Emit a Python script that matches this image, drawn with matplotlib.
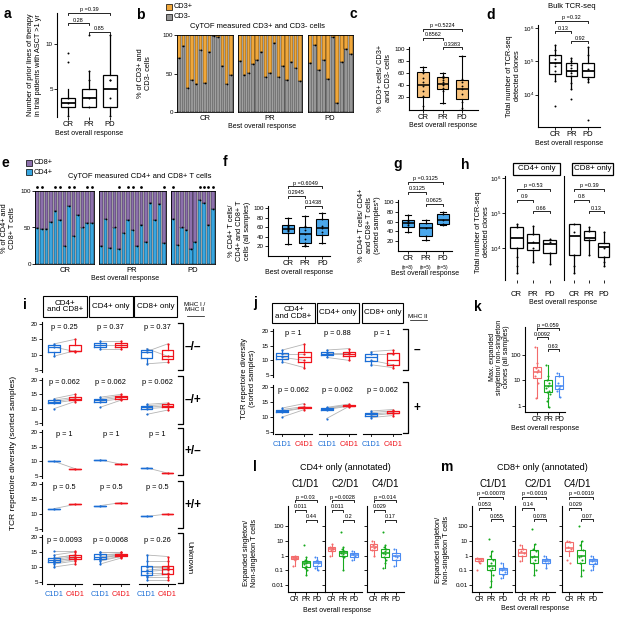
import numpy as np
import matplotlib
matplotlib.use('Agg')
import matplotlib.pyplot as plt
from matplotlib.patches import Rectangle
from matplotlib.lines import Line2D

plt.rcParams['font.family'] = ['Liberation Sans', 'DejaVu Sans']
plt.rcParams['font.size'] = 5
plt.rcParams['axes.linewidth'] = 0.8

# ---- data ----
grp = ['CR', 'PR', 'PD']
# a: lines of therapy   [whislo, q1, med, q3, whishi]
a_stats = [[2, 3, 3.5, 4, 5], [3, 3, 4, 5, 7], [2, 3, 5, 6.5, 11]]
a_pts = [[8, 9, 4, 3.5, 2], [11, 7, 6, 4, 3], [11, 6, 6, 4, 2]]
a_p = ['p =0.39', '0.28', '0.85']
# b: % CD3- cells per sample (rest is CD3+)
b_cr = [70, 86, 31, 42, 37, 80, 38, 78, 99, 97, 60, 36, 48]
b_pr = [66, 48, 51, 62, 68, 78, 46, 51, 90, 45, 60, 41, 65, 57, 40]
b_pd = [64, 87, 55, 68, 43, 97, 12, 65, 82, 75]
# c: % CD3+ cells
c_stats = [[0, 21, 40, 62, 70], [10, 33, 42, 53, 60], [0, 17, 34, 49, 88]]
c_pts = [[0, 5, 22, 30, 38, 45, 52, 60, 65, 70], [10, 30, 35, 40, 42, 45, 48, 52, 55, 60],
         [0, 3, 12, 25, 33, 38, 45, 50, 88]]
c_p = ['p =0.5224', '0.8562', '0.3383']
# d: bulk TCR-seq clones
d_stats = [[2.6e4, 4.3e4, 9e4, 1.5e5, 3e5], [1.5e4, 3.6e4, 5.3e4, 9e4, 1.3e5],
           [2.4e4, 3.3e4, 5e4, 9e4, 2.7e5]]
d_pts = [[4.7e3, 2.6e4, 5e4, 7e4, 9e4, 1.2e5, 1.6e5, 2.2e5, 3e5],
         [7.5e3, 1.5e4, 2.2e4, 3.6e4, 4.5e4, 5.3e4, 6.5e4, 8e4, 1e5, 1.3e5],
         [1.7e3, 2.4e4, 3e4, 6e4, 1.5e5, 2.7e5]]
d_p = ['p =0.32', '0.13', '0.92']
# e: % CD4+ of CD4+CD8+ T cells per sample
e_cr = [49, 48, 48, 57, 72, 60, 25, 80, 38, 67, 50, 56, 56]
e_pr = [24, 62, 22, 50, 20, 42, 60, 46, 25, 53, 30, 83, 60, 82, 29]
e_pd = [61, 26, 50, 46, 21, 30, 88, 83, 53, 76]
e_sorted = [[0, 1, 4, 5, 7, 8, 11, 12], [4, 6, 7, 9, 14], [0, 6, 7, 8, 9]]
# f, g
f_stats = [[25, 47, 57, 64, 80], [20, 27, 46, 61, 84], [27, 43, 58, 78, 89]]
f_pts = [[25, 48, 52, 55, 57, 58, 60, 63, 65, 80], [20, 22, 27, 35, 46, 55, 61, 63, 84],
         [27, 43, 50, 58, 62, 78, 89]]
f_p = ['p =0.6049', '0.2945', '0.1438']
g_stats = [[38, 48, 57, 64, 73], [22, 30, 47, 57, 63], [54, 56, 63, 75, 80]]
g_pts = [[38, 48, 52, 57, 58, 62, 64, 73], [22, 30, 47, 57, 63], [54, 56, 63, 75, 80]]
g_p = ['p =0.3125', '0.3125', '0.0625']
g_n = ['(n=8)', '(n=5)', '(n=5)']
# h
h4_stats = [[2e3, 1e4, 1.9e4, 4e4, 5e4], [4e3, 9e3, 1.4e4, 2.5e4, 4.3e4], [3.5e3, 7.5e3, 1.3e4, 1.75e4, 1.8e4]]
h4_pts = [[5e4, 4e4, 1e4, 5.5e3, 3e3, 2e3], [4.3e4, 2.5e4, 1.5e4, 1e4, 4e3], [1.8e4, 1.5e4, 7.5e3, 3.5e3]]
h8_stats = [[2e3, 6.5e3, 2.2e4, 5e4, 5e4], [6.5e3, 1.7e4, 2e4, 3e4, 4e4], [3e3, 5.5e3, 1.1e4, 1.4e4, 2.8e4]]
h8_pts = [[5e4, 2.8e4, 6.5e3, 3e3, 2e3], [4e4, 3e4, 1.7e4, 6.5e3], [2.8e4, 1e4, 5.5e3, 4e3, 3e3]]
h4_p = ['p =0.53', '0.9', '0.66']
h8_p = ['p =0.39', '0.8', '0.13']
# i: paired TCR diversity, rows = MHC I / MHC II status, groups = CD4+CD8+, CD4+, CD8+
i_rows = ['\u2013/\u2013', '\u2013/+', '+/\u2013', '+/+', 'Unknown']
i_p = [['p = 0.25', 'p = 0.37', 'p = 0.37'], ['p = 0.062'] * 3, ['p = 1'] * 3, ['p = 0.5'] * 3,
       ['p = 0.0093', 'p = 0.0068', 'p = 0.26']]
i_c1 = [
    [[9.5, 12.5, 13.5], [12.0, 13.0, 14.5], [7.0, 11.0, 12.0]],
    [[10.0, 12.0, 12.5, 13.0, 13.5], [10.5, 12.5, 13.0, 13.5, 14.0], [8.0, 10.0, 10.5, 11.0, 11.5]],
    [[10.0], [10.5], [7.8]],
    [[11.8], [12.8], [9.2]],
    [[10.0, 11.0, 11.5, 12.0, 12.0, 12.5, 13.0, 13.0, 14.0, 15.5],
     [11.0, 12.0, 12.5, 13.0, 13.0, 13.5, 14.0, 14.5, 15.0, 15.0],
     [5.5, 6.5, 7.0, 8.0, 8.5, 9.0, 10.0, 10.5, 12.0, 14.0]],
]
i_c4 = [
    [[11.3, 11.0, 15.0], [12.0, 13.0, 14.5], [7.5, 13.5, 9.5]],
    [[12.5, 13.0, 13.5, 14.0, 15.0], [13.0, 13.5, 14.0, 14.5, 15.0], [9.5, 10.5, 11.0, 11.5, 12.0]],
    [[7.5], [9.0], [6.0]],
    [[13.2], [13.8], [10.0]],
    [[11.0, 12.0, 12.5, 13.0, 13.0, 13.5, 14.0, 14.0, 15.0, 15.5],
     [13.0, 13.5, 13.5, 14.0, 14.0, 14.0, 14.5, 14.5, 15.0, 15.0],
     [5.5, 6.5, 7.5, 8.0, 9.0, 9.5, 10.0, 10.5, 12.0, 13.5]],
]
# j: by MHC II only
j_rows = ['\u2013', '+']
j_p = [['p = 1', 'p = 0.88', 'p = 1'], ['p = 0.062'] * 3]
j_c1 = [
    [[9.5, 11.0, 12.0, 13.5], [11.0, 12.0, 12.5, 13.5], [8.5, 10.0, 12.0, 13.0]],
    [[10.0, 11.8, 12.0, 12.5, 13.0], [9.5, 12.5, 12.8, 13.0, 13.2], [9.8, 10.5, 11.0, 11.5, 12.0]],
]
j_c4 = [
    [[7.5, 10.0, 12.0, 15.5], [10.0, 12.0, 12.5, 14.0], [7.5, 8.5, 12.0, 13.5]],
    [[12.5, 13.0, 13.2, 13.5, 14.5], [13.5, 13.6, 13.8, 14.0, 14.3], [10.5, 11.2, 11.5, 12.0, 12.5]],
]
# k
k_stats = [[2, 12, 22, 35, 200], [0.9, 3.5, 6, 10, 40], [2.3, 4.5, 6, 15, 20]]
k_pts = [[200, 50, 30, 25, 22, 15, 8, 2], [40, 15, 10, 8, 6, 5, 4, 3.5, 3, 2, 1.5, 0.9],
         [20, 15, 8, 6, 5, 4, 2.3]]
k_p = ['p =0.059', '0.0092', '0.63']
# l: CD4+ only, expanded / non-singleton
cyc = ['C1/D1', 'C2/D1', 'C4/D1']
l_stats = [
    [[0.2, 0.55, 0.7, 0.9, 1.0], [0.05, 0.18, 0.3, 0.42, 0.8], [0.1, 0.2, 0.3, 0.45, 0.8]],
    [[1, 2, 3, 4, 6], [0.1, 1, 1.5, 2.2, 4], [0.5, 0.8, 1.1, 1.5, 2]],
    [[1, 2.5, 4, 6, 10], [0.15, 0.8, 1.6, 3, 5], [0.2, 0.5, 0.9, 1.5, 3]],
]
l_pts = [
    [[0.2, 0.5, 0.6, 0.7, 0.75, 0.85, 1.0], [5, 0.8, 0.5, 0.4, 0.3, 0.25, 0.2, 0.15, 0.1, 0.05],
     [0.8, 0.5, 0.4, 0.3, 0.2, 0.15, 0.1]],
    [[1, 2, 2.5, 3, 3.5, 4, 6], [40, 4, 3, 2.2, 2, 1.5, 1.3, 1, 0.8, 0.1], [2, 1.5, 1.2, 1, 0.8, 0.5]],
    [[10, 6, 5, 4, 3.5, 2.5, 1], [40, 5, 4, 3, 2, 1.6, 1.2, 0.8, 0.5, 0.3, 0.15], [3, 1.5, 1, 0.8, 0.5, 0.2]],
]
l_p = [['p =0.03', '0.011', '0.44'], ['p =0.0028', '0.011', '0.2'], ['p =0.014', '0.029', '0.17']]
# m: CD8+ only
m_stats = [
    [[0.3, 0.4, 0.55, 0.65, 0.7], [0.007, 0.1, 0.2, 0.55, 2], [0.03, 0.06, 0.1, 0.15, 0.3]],
    [[0.4, 1, 1.6, 3, 5], [0.05, 0.3, 0.8, 2.5, 6], [0.15, 0.3, 0.45, 0.6, 1]],
    [[1, 2, 3.5, 8, 10], [0.04, 0.3, 0.9, 2.5, 10], [0.1, 0.25, 0.4, 0.6, 1]],
]
m_pts = [
    [[0.1, 0.3, 0.4, 0.5, 0.6, 0.65], [13, 2, 1, 0.5, 0.3, 0.2, 0.15, 0.1, 0.05, 0.02, 0.007],
     [0.3, 0.15, 0.1, 0.08, 0.05, 0.03]],
    [[5, 3, 2, 1.5, 1, 0.4], [60, 6, 3, 2, 1, 0.8, 0.5, 0.3, 0.1, 0.05], [1, 0.6, 0.45, 0.3, 0.15]],
    [[10, 8, 4, 3, 2, 0.5, 0.3], [100, 10, 5, 2.5, 1, 0.8, 0.5, 0.3, 0.1, 0.04], [1, 0.6, 0.4, 0.3, 0.2, 0.1]],
]
m_p = [['p =0.00078', '0.053', '0.055'], ['p =0.0019', '0.14', '0.078'], ['p =0.0019', '0.029', '0.07']]

# colours
ORANGE = '#F0A73A'
GRAY = '#969696'
PURPLE = '#8C70AC'
CYAN = '#38A6E0'
LORANGE = '#F8C27C'
FBLUE = '#4BA8EC'
BLUE = '#1B6ED6'
RED = '#F0141C'
RESP = ['#F36B6B', '#17A91E', '#4A8BF2']

FS_TICK = 4.5   # numeric tick labels
FS_CAT = 5.5    # CR / PR / PD
FS_XL = 5       # "Best overall response"
FS_YL = 5.3     # y labels
FS_P = 4        # bracket p values

W, H = 620, 617
fig = plt.figure(figsize=(W / 100, H / 100), dpi=100)


def axpx(x0, y0, x1, y1):
    ax = fig.add_axes([x0 / W, 1 - y1 / H, (x1 - x0) / W, (y1 - y0) / H])
    ax.px = (x0, y0, x1, y1)
    return ax


def ftext(x, y, s, **kw):
    kw.setdefault('ha', 'center')
    kw.setdefault('va', 'center')
    fig.text(x / W, 1 - y / H, s, **kw)


def fline(xs, ys, **kw):
    kw.setdefault('color', 'k')
    kw.setdefault('lw', 0.8)
    fig.add_artist(Line2D([x / W for x in xs], [1 - y / H for y in ys], **kw))


def label(x, y, s):
    ftext(x, y, s, fontsize=10, fontweight='bold')


def style(ax, bottom=True):
    ax.spines['top'].set_visible(False)
    ax.spines['right'].set_visible(False)
    ax.spines['bottom'].set_visible(bottom)
    ax.tick_params(length=2, width=0.6, pad=1, labelsize=FS_TICK)
    ax.patch.set_alpha(0)


def brk(ax, a, b, yl, txt, fs=FS_P):
    x0, y0, x1, y1 = ax.px
    f = lambda y: (y1 - y) / (y1 - y0)
    tr = ax.get_xaxis_transform()
    ax.plot([a, a, b, b], [f(yl + 2), f(yl), f(yl), f(yl + 2)], transform=tr,
            color='k', lw=0.6, clip_on=False)
    ax.text((a + b) / 2, f(yl - 0.5), txt, transform=tr, ha='center', va='bottom',
            fontsize=fs, clip_on=False)


def boxes(ax, stats, face='white', edge='k', w=0.6, lw=0.8, caps=False, ecols=None):
    for i, s in enumerate(stats):
        ec = ecols[i] if ecols else edge
        st = [dict(whislo=s[0], q1=s[1], med=s[2], q3=s[3], whishi=s[4], fliers=[])]
        ax.bxp(st, positions=[i + 1], widths=w, patch_artist=True, showfliers=False,
               showcaps=caps, capwidths=w * 0.5,
               boxprops=dict(facecolor=face, edgecolor=ec, lw=lw),
               whiskerprops=dict(color=ec, lw=lw), capprops=dict(color=ec, lw=lw),
               medianprops=dict(color=ec, lw=lw * 1.4))


def dots(ax, pts, cols=None, s=2.0, jit=0.0):
    for i, p in enumerate(pts):
        n = len(p)
        off = ((np.arange(n) * 0.618) % 1 - 0.5) * 2 * jit
        ax.scatter(i + 1 + off, p, s=s, color=(cols[i] if cols else 'k'), zorder=3, lw=0)


def cats(ax, fs=FS_CAT):
    ax.set_xticks([1, 2, 3])
    ax.set_xticklabels(grp, fontsize=fs)


# ================= a =================
label(7, 14, 'a')
ax = axpx(57, 13, 122, 117)
style(ax, bottom=False)
boxes(ax, a_stats, w=0.65, lw=0.9)
dots(ax, a_pts)
ax.set_ylim(1.89, 13.44)
ax.set_xlim(0.48, 3.57)
ax.set_yticks([5, 10])
cats(ax)
ax.set_xlabel('Best overall response', fontsize=FS_XL, labelpad=1)
ax.set_ylabel('Number of prior lines of therapy\nin trial patients with ASCT >1 yr', fontsize=FS_YL, labelpad=3)
brk(ax, 1, 3, 13, a_p[0])
brk(ax, 1, 2, 23, a_p[1])
brk(ax, 2, 3, 32, a_p[2])


# ============ stacked bar facets (b, e) ============
def stacked(facets, vals, top_col, bot_col, ytop, ybot, marks=None):
    for k, ((x0, x1), v) in enumerate(zip(facets, vals)):
        ax = axpx(x0, ytop, x1, ybot)
        v = np.array(v, dtype=float)
        x = np.arange(len(v))
        ax.bar(x, v, width=0.8, color=bot_col, edgecolor='k', lw=0.3)
        ax.bar(x, 100 - v, bottom=v, width=0.8, color=top_col, edgecolor='k', lw=0.3)
        ax.scatter(x, v, s=1.6, color='k', zorder=3, lw=0)
        if marks is not None:
            ax.scatter(np.array(marks[k]), np.full(len(marks[k]), 106), s=4, color='k',
                       marker='o', clip_on=False, lw=0)
        ax.set_xlim(-0.5, len(v) - 0.5)
        ax.set_ylim(0, 100)
        ax.set_xticks([])
        ax.tick_params(length=2, width=0.6, pad=1, labelsize=FS_TICK)
        if k == 0:
            ax.set_yticks([0, 50, 100])
        else:
            ax.set_yticks([])
        for s in ax.spines.values():
            s.set_linewidth(0.6)


label(140, 15, 'b')
stacked([(177, 233), (238, 302), (308, 353)], [b_cr, b_pr, b_pd], ORANGE, GRAY, 35, 112)
for yy, col, txt in [(7, ORANGE, 'CD3+'), (17, GRAY, 'CD3-')]:
    fig.add_artist(Rectangle((166 / W, 1 - (yy + 3) / H), 6 / W, 6 / H, fc=col, ec='k', lw=0.5))
    ftext(174, yy, txt, ha='left', fontsize=5.3)
ftext(258, 26, 'CyTOF measured CD3+ and CD3- cells', fontsize=5.5)
for xx, g in zip([205, 270, 330], grp):
    ftext(xx, 119, g, fontsize=FS_CAT)
ftext(262, 127, 'Best overall response', fontsize=FS_XL)
ftext(145, 73, '% of CD3+ and\nCD3- cells', rotation=90, fontsize=FS_YL)

# ================= c =================
label(353, 14, 'c')
ax = axpx(409, 47, 478, 109.5)
style(ax)
boxes(ax, c_stats, face=LORANGE, w=0.6, lw=0.8, caps=True)
dots(ax, c_pts, s=1.8)
ax.set_ylim(0, 103)
ax.set_xlim(0.28, 3.82)
ax.set_yticks([20, 40, 60, 80, 100])
cats(ax)
ax.set_xlabel('Best overall response', fontsize=FS_XL, labelpad=1)
ax.set_ylabel('% CD3+ cells/ CD3+\nand CD3- cells', fontsize=FS_YL, labelpad=2)
brk(ax, 1, 3, 29, c_p[0])
brk(ax, 1, 2, 38, c_p[1])
brk(ax, 2, 3, 47, c_p[2])

# ================= d =================
label(491, 15, 'd')
ftext(572, 6, 'Bulk TCR-seq', fontsize=5.5)
ax = axpx(538, 25, 600, 127)
style(ax)
ax.set_yscale('log')
boxes(ax, d_stats, w=0.7, lw=0.9)
dots(ax, d_pts)
ax.set_ylim(10 ** 3.03, 10 ** 6.09)
ax.set_xlim(-0.03, 3.73)
ax.set_yticks([1e4, 1e5, 1e6])
ax.minorticks_off()
cats(ax)
ax.set_xlabel('Best overall response', fontsize=FS_XL, labelpad=1)
ax.set_ylabel('Total number of TCR-seq\ndetected clones', fontsize=FS_YL, labelpad=1)
brk(ax, 1, 3, 21, d_p[0])
brk(ax, 1, 2, 31, d_p[1])
brk(ax, 2, 3, 41, d_p[2])

# ================= e =================
label(5, 163, 'e')
stacked([(35, 94), (99, 166), (171, 215)], [e_cr, e_pr, e_pd], PURPLE, CYAN, 191, 264, marks=e_sorted)
for yy, col, txt in [(163, PURPLE, 'CD8+'), (172, CYAN, 'CD4+')]:
    fig.add_artist(Rectangle((26 / W, 1 - (yy + 3) / H), 6 / W, 6 / H, fc=col, ec='k', lw=0.5))
    ftext(34, yy, txt, ha='left', fontsize=5.3)
ftext(140, 176, 'CyTOF measured CD4+ and CD8+ T cells', fontsize=5.5)
for xx, g in zip([65, 132, 193], grp):
    ftext(xx, 270, g, fontsize=FS_CAT)
ftext(125, 278, 'Best overall response', fontsize=FS_XL)
ftext(9, 228, '% of CD4+ and\nCD8+ T cells', rotation=90, fontsize=FS_YL)

# ================= f =================
label(225, 162, 'f')
ax = axpx(268, 206, 330, 256)
style(ax)
boxes(ax, f_stats, face=FBLUE, w=0.7, lw=0.8, caps=True)
dots(ax, f_pts, s=1.8)
ax.set_ylim(0, 104)
ax.set_xlim(-0.15, 3.45)
ax.set_yticks([20, 40, 60, 80, 100])
cats(ax)
ax.set_xlabel('Best overall response', fontsize=FS_XL, labelpad=1)
ax.set_ylabel('% CD4+ T cells/\nCD4+ and CD8+ T\ncells (all samples)', fontsize=FS_YL, labelpad=2)
brk(ax, 1, 3, 186, f_p[0])
brk(ax, 1, 2, 196, f_p[1])
brk(ax, 2, 3, 206, f_p[2])

# ================= g =================
label(398, 164, 'g')
ax = axpx(398, 200, 452, 251)
style(ax)
boxes(ax, g_stats, face=FBLUE, w=0.7, lw=0.8, caps=True)
dots(ax, g_pts, s=1.8)
ax.set_ylim(0, 104)
ax.set_xlim(0.43, 3.51)
ax.set_yticks([20, 40, 60, 80, 100])
cats(ax)
for i, n in enumerate(g_n):
    ax.text(i + 1, -0.33, n, transform=ax.get_xaxis_transform(), ha='center', fontsize=3.5, va='center')
ax.set_xlabel('Best overall response', fontsize=FS_XL, labelpad=6)
ax.set_ylabel('% CD4+ T cells/ CD4+\nand CD8+ T cells\n(sorted samples*)', fontsize=FS_YL, labelpad=2)
brk(ax, 1, 3, 182, g_p[0])
brk(ax, 1, 2, 192, g_p[1])
brk(ax, 2, 3, 204, g_p[2])

# ================= h =================
label(465, 165, 'h')
for (x0, x1), st, pts, pl, title in [((505, 562), h4_stats, h4_pts, h4_p, 'CD4+ only'),
                                      ((564, 615), h8_stats, h8_pts, h8_p, 'CD8+ only')]:
    ax = axpx(x0, 176, x1, 280)
    style(ax, bottom=False)
    ax.set_yscale('log')
    boxes(ax, st, w=0.75, lw=0.9)
    dots(ax, pts)
    ax.set_ylim(10 ** 3.09, 10 ** 6.06)
    ax.set_xlim(0.3, 3.75)
    ax.set_yticks([1e4, 1e5, 1e6])
    ax.minorticks_off()
    if x0 > 510:
        ax.tick_params(axis='y', labelleft=False, length=0)
    cats(ax)
    ax.tick_params(axis='x', pad=6)
    brk(ax, 1, 3, 189, pl[0])
    brk(ax, 1, 2, 200, pl[1])
    brk(ax, 2, 3, 211, pl[2])
    fig.add_artist(Rectangle(((x0 + 8) / W, 1 - 175 / H), (x1 - x0 - 10) / W, 12 / H,
                             fc='white', ec='k', lw=0.9))
    ftext((x0 + x1) / 2 + 3, 169, title, fontsize=5.8)
ftext(563, 303, 'Best overall response', fontsize=FS_XL)
ftext(482, 232, 'Total number of TCR-seq\ndetected clones', rotation=90, fontsize=FS_YL)


# ============ paired panels (i, j) ============
def header(x0, y0, x1, y1, txt):
    fig.add_artist(Rectangle((x0 / W, 1 - y1 / H), (x1 - x0) / W, (y1 - y0) / H, fc='white', ec='k', lw=0.8))
    ftext((x0 + x1) / 2, (y0 + y1) / 2, txt, fontsize=5.8, linespacing=0.9)


def paired(rowpx, xl, xr, c1, c4, plabs, spacing):
    for r, (yt, yb) in enumerate(rowpx):
        # 20 at yt, 5 at yb
        ppu = (yb - yt) / 15.0
        ax = axpx(xl, yt - 0.6 * ppu, xr, yb + 0.6 * ppu)
        ax.set_ylim(4.4, 20.6)
        for g in range(3):
            a, b = g * spacing, g * spacing + 1
            for v1, v4 in zip(c1[r][g], c4[r][g]):
                ax.plot([a, b], [v1, v4], color='#B4B4B4', lw=0.6, zorder=1)
            for pos, vals, col in [(a, c1[r][g], BLUE), (b, c4[r][g], RED)]:
                ax.boxplot([vals], positions=[pos], widths=0.55, showfliers=False,
                           boxprops=dict(color=col, lw=0.9), whiskerprops=dict(color=col, lw=0.9),
                           capprops=dict(color=col, lw=0), medianprops=dict(color=col, lw=0.9),
                           manage_ticks=False)
                ax.scatter([pos] * len(vals), vals, s=2.5, color=col, zorder=3, lw=0)
            ax.text(g * spacing + 0.5, 0.9, plabs[r][g], transform=ax.get_xaxis_transform(),
                    ha='center', va='center', fontsize=5.3)
        ax.set_xlim(-0.57 if spacing > 2.1 else -0.42, 2 * spacing + 1.45)
        style(ax, bottom=False)
        ax.set_yticks([5, 10, 15, 20])
        ax.set_xticks([])
        if r == len(rowpx) - 1:
            tr = ax.get_xaxis_transform()
            for g in range(3):
                a = g * spacing
                ax.plot([a - 0.35, a + 1.35], [0, 0], transform=tr, color='k', lw=0.8, clip_on=False)
                for pos, t, col in [(a, 'C1D1', BLUE), (a + 1, 'C4D1', RED)]:
                    ax.plot([pos, pos], [0, -0.05], transform=tr, color='k', lw=0.6, clip_on=False)
                    ax.text(pos, -0.22, t, transform=tr, ha='center', va='center', color=col, fontsize=5.3)


label(25, 305, 'i')
for (x0, x1), t in zip([(43, 87), (89, 133), (134, 177)], ['CD4+\nand CD8+', 'CD4+ only', 'CD8+ only']):
    header(x0, 296, x1, 317, t)
ftext(195, 307, 'MHC I /\nMHC II', fontsize=4.5, linespacing=1.1)
fline([187, 204], [316, 316], lw=0.5)
i_rowpx = [(324, 370), (380, 423), (432, 476), (484, 529), (537, 582)]
paired(i_rowpx, 42, 177, i_c1, i_c4, i_p, 2.2)
i_brk = [(323, 370), (376, 424), (428, 475), (481, 528), (533, 583)]
for (yt, yb), t in zip(i_brk, i_rows):
    fline([178, 183, 183, 178], [yt, yt, yb, yb], lw=0.9)
    if t == 'Unknown':
        ftext(189, (yt + yb) / 2, t, rotation=270, fontsize=5.8)
    else:
        ftext(193, (yt + yb) / 2, t, fontsize=8.5, fontweight='bold')
ftext(14, 453, 'TCR repertoire diversity (sorted samples)', rotation=90, fontsize=6)

label(255, 303, 'j')
for (x0, x1), t in zip([(272, 315), (317, 359), (362, 403)], ['CD4+\nand CD8+', 'CD4+ only', 'CD8+ only']):
    header(x0, 303, x1, 323, t)
ftext(418, 316, 'MHC II', fontsize=4.5)
fline([410, 427], [320, 320], lw=0.5)
j_rowpx = [(331, 375), (387, 432)]
paired(j_rowpx, 273, 403, j_c1, j_c4, j_p, 2.0)
for (yt, yb), t in zip([(329, 370), (382, 433)], j_rows):
    fline([403, 408, 408, 403], [yt, yt, yb, yb], lw=0.9)
    ftext(417, (yt + yb) / 2, t, fontsize=8.5, fontweight='bold')
ftext(249, 378, 'TCR repertoire diversity\n(sorted samples)', rotation=90, fontsize=5.5)

# ================= k =================
label(478, 307, 'k')
ax = axpx(525, 327, 565, 412)
style(ax)
ax.set_yscale('log')
boxes(ax, k_stats, w=0.75, lw=0.8, ecols=RESP)
dots(ax, k_pts, cols=RESP, s=2.2, jit=0.18)
ax.set_ylim(10 ** -0.24, 10 ** 3.1)
ax.set_xlim(-0.09, 3.55)
ax.set_yticks([1, 10, 100])
ax.set_yticklabels(['1', '10', '100'])
ax.minorticks_off()
cats(ax, fs=5)
ax.set_xlabel('Best overall response', fontsize=FS_XL, labelpad=1)
ftext(500, 357, 'Max. expanded\nsingleton/ non-singleton\nclones (all samples)', rotation=90,
      fontsize=5, linespacing=1.0)
brk(ax, 1, 3, 328, k_p[0])
brk(ax, 1, 2, 337, k_p[1])
brk(ax, 2, 3, 349, k_p[2])


# ================= l, m =================
def cycles(spines, width, stats, pts, plabs, tops, ytop, ybot, title_xy, cyc_x):
    for f, x0 in enumerate(spines):
        ax = axpx(x0, ytop, x0 + width, ybot)
        style(ax)
        ax.set_yscale('log')
        boxes(ax, stats[f], w=0.7, lw=0.8, ecols=RESP)
        dots(ax, pts[f], cols=RESP, s=2.2, jit=0.18)
        ax.set_ylim(10 ** -2.47, 10 ** 3.36)
        ax.set_xlim(0.4, 3.75)
        ax.set_yticks([0.01, 0.1, 1, 10, 100])
        ax.minorticks_off()
        if f == 0:
            ax.set_yticklabels(['0.01', '0.1', '1', '10', '100'])
        else:
            ax.set_yticklabels([])
        cats(ax, fs=4.8)
        brk(ax, 1, 3, tops[0], plabs[f][0])
        brk(ax, 1, 2, tops[1], plabs[f][1])
        brk(ax, 2, 3, tops[2], plabs[f][2])
        ftext(cyc_x[f], 484, cyc[f], fontsize=7)
    ftext(title_xy[0], title_xy[1][0], title_xy[1][1], fontsize=6.5)


label(255, 467, 'l')
cycles([288, 325, 367], 37, l_stats, l_pts, l_p, (500, 510, 520), 506, 592,
       (345, (468, 'CD4+ only (annotated)')), [305, 345, 385])
ftext(337, 611, 'Best overall response', fontsize=FS_XL)
ftext(251, 553, 'Expanded singleton/\nNon-singleton T cells', rotation=90, fontsize=FS_YL)

label(447, 467, 'm')
cycles([472, 515, 562], 40, m_stats, m_pts, m_p, (497, 508, 519), 506, 592,
       (542, (467, 'CD8+ only (annotated)')), [493, 538, 577])
ftext(535, 609, 'Best overall response', fontsize=FS_XL)
ftext(442, 550, 'Expanded singleton/\nNon-singleton T cells', rotation=90, fontsize=FS_YL)

fig.savefig('out.png', dpi=100)
